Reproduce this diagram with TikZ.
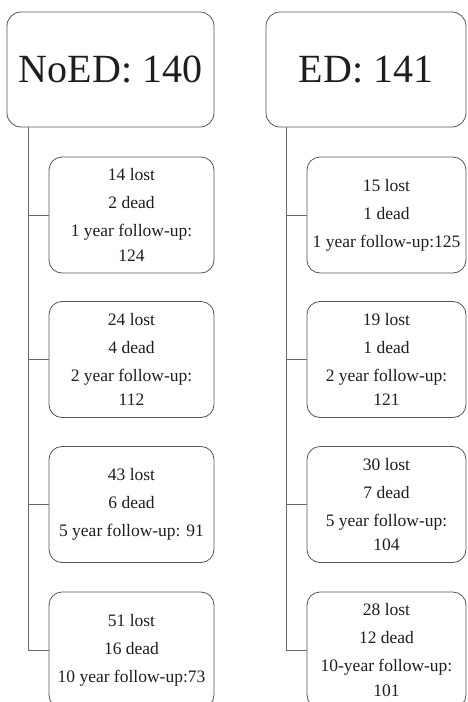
\documentclass[tikz,border=0pt]{standalone}
\usepackage{fontspec}
\setmainfont{Liberation Serif}
\usetikzlibrary{positioning,calc}
\definecolor{lngray}{RGB}{105,105,105}
\definecolor{bxgray}{RGB}{85,85,85}
\definecolor{txgray}{RGB}{30,30,30}
\newcommand{\gap}{\\[3.5pt]}

\begin{document}
\begin{tikzpicture}[x=1pt,y=-1pt,
    grp/.style={draw=bxgray,line width=0.8pt,rounded corners=14pt,inner sep=0pt,
      text=txgray,font=\fontsize{40}{44}\selectfont},
    stage/.style={draw=bxgray,line width=0.8pt,rounded corners=13pt,inner sep=0pt,
      minimum height=116pt,align=center,text=txgray,font=\fontsize{17.5}{24.5}\selectfont},
    link/.style={draw=lngray,line width=0.8pt}]
  \useasboundingbox (0,0) rectangle (467,702);
  % group boxes
  \node[grp,minimum width=207pt,minimum height=115pt] (noed) at (110.5,69.5) {NoED: 140};
  \node[grp,minimum width=200pt,minimum height=115pt] (ed) at (366,69.5) {ED: 141};
  % NoED follow-up
  \node[stage,minimum width=165pt] (n1) at (131.5,215) {14 lost\gap 2 dead\gap 1 year follow-up:\\124};
  \node[stage,minimum width=165pt] (n2) at (131.5,359.5) {24 lost\gap 4 dead\gap 2 year follow-up:\\112};
  \node[stage,minimum width=165pt] (n3) at (131.5,504.5) {43 lost\gap 6 dead\gap 5 year follow-up: 91};
  \node[stage,minimum width=165pt] (n4) at (131.5,650) {51 lost\gap 16 dead\gap 10 year follow-up:73};
  % ED follow-up
  \node[stage,minimum width=159pt] (e1) at (386.5,215) {15 lost\gap 1 dead\gap 1 year follow-up:125};
  \node[stage,minimum width=159pt] (e2) at (386.5,359.5) {19 lost\gap 1 dead\gap 2 year follow-up:\\121};
  \node[stage,minimum width=159pt] (e3) at (386.5,504.5) {30 lost\gap 7 dead\gap 5 year follow-up:\\104};
  \node[stage,minimum width=159pt] (e4) at (386.5,650) {28 lost\gap 12 dead\gap 10-year follow-up:\\101};
  % connectors
  \coordinate (nl) at ([xshift=22pt]noed.south west);
  \coordinate (el) at ([xshift=21pt]ed.south west);
  \draw[link] (nl) |- (n4.west);
  \draw[link] (el) |- (e4.west);
  \foreach \i in {1,2,3} {
    \draw[link] (n\i.west) -- (n\i.west -| nl);
    \draw[link] (e\i.west) -- (e\i.west -| el);
  }
\end{tikzpicture}
\end{document}
